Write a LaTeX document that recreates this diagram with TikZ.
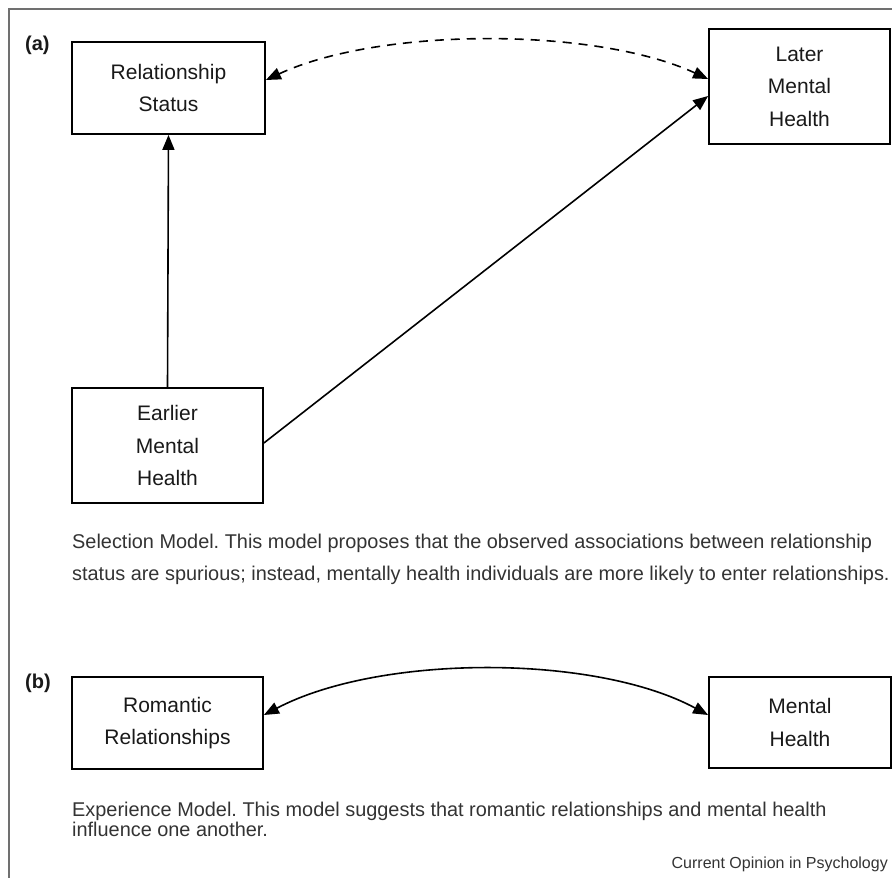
\documentclass[tikz,border=0pt]{standalone}
\usepackage{fontspec}
\setmainfont{Liberation Sans}
\usetikzlibrary{arrows.meta}
\definecolor{framegray}{HTML}{707070}
\definecolor{captext}{HTML}{333333}
\frenchspacing
\begin{document}
\begin{tikzpicture}[x=1pt,y=-1pt,
  box/.style={draw=black,line width=1.8pt,inner sep=0pt,align=center,text=black!90,
              font=\fontsize{21}{32.5}\selectfont},
  link/.style={line width=1.6pt,-{Triangle[length=15pt,width=12pt]}},
  both/.style={line width=1.6pt,{Triangle[length=15pt,width=12pt]}-{Triangle[length=15pt,width=12pt]}},
  dashline/.style={dash pattern=on 9pt off 7pt},
  caption/.style={anchor=base west,align=left,inner sep=0pt,text=captext},
  panel/.style={anchor=base west,inner sep=0pt,font=\fontsize{20}{24}\selectfont\bfseries,text=black!90}]
\useasboundingbox (0,0) rectangle (892,878);
% frame
\draw[framegray,line width=1.5pt] (9,878) -- (9,9) -- (892,9);
% panel labels
\node[panel] (la) at (25,50) {(a)};
\node[panel] (lb) at (25,688) {(b)};
% panel (a) boxes
\node[box,minimum width=193pt,minimum height=92pt] (rel) at (168.5,88) {Relationship\\Status};
\node[box,minimum width=181pt,minimum height=115pt] (later) at (799.5,86.5) {Later\\Mental\\Health};
\node[box,minimum width=191pt,minimum height=115pt] (ear) at (167.5,445.5) {Earlier\\Mental\\Health};
% panel (a) connectors
\draw[link] (ear.north) -- (rel.south);
\draw[link] ([yshift=2.5pt]ear.east) -- ([yshift=-9.5pt]later.west);
\draw[both,dashline] ([yshift=8pt]rel.east) .. controls (380,27) and (595,27) .. ([yshift=7.5pt]later.west);
% caption (a)
\node[caption,font=\fontsize{19.9}{32}\selectfont] (capa) at (72,580)
  {Selection Model. This model proposes that the observed associations between relationship\\status are spurious; instead, mentally health individuals are more likely to enter relationships.};
% panel (b)
\node[box,minimum width=191pt,minimum height=92pt] (rom) at (167.5,723) {Romantic\\Relationships};
\node[box,minimum width=182pt,minimum height=91pt] (mh) at (800,722.5) {Mental\\Health};
\draw[both] ([yshift=8pt]rom.east) .. controls (380,654) and (595,654) .. ([yshift=7.5pt]mh.west);
\node[caption,font=\fontsize{19.9}{20}\selectfont] (capb) at (72,836)
  {Experience Model. This model suggests that romantic relationships and mental health\\influence one another.};
\node[anchor=base east,inner sep=0pt,text=captext,font=\fontsize{16}{18}\selectfont] (src) at (888,868) {Current Opinion in Psychology};
\end{tikzpicture}
\end{document}
